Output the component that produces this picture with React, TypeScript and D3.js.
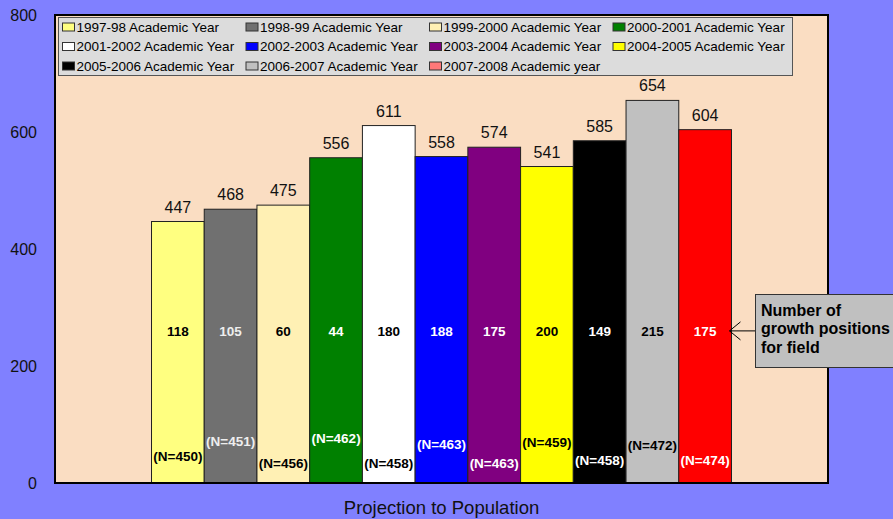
import * as d3 from "d3"

const years = [
  "1997-98 Academic Year",
  "1998-99 Academic Year",
  "1999-2000 Academic Year",
  "2000-2001 Academic Year",
  "2001-2002 Academic Year",
  "2002-2003 Academic Year",
  "2003-2004 Academic Year",
  "2004-2005 Academic Year",
  "2005-2006 Academic Year",
  "2006-2007 Academic Year",
  "2007-2008 Academic year",
]
const projections = [447, 468, 475, 556, 611, 558, 574, 541, 585, 654, 604]
const growthPositions = [118, 105, 60, 44, 180, 188, 175, 200, 149, 215, 175]
const sampleSizes = [450, 451, 456, 462, 458, 463, 463, 459, 458, 472, 474]
const yTicks = [0, 200, 400, 600, 800]
const category = "Projection to Population"
const calloutLines = ["Number of", "growth positions", "for field"]

const barColors = ["#FFFF80", "#707070", "#FFF0B4", "#008000", "#FFFFFF", "#0000FF", "#800080", "#FFFF00", "#000000", "#C0C0C0", "#FF0000"]
const swatchColors = ["#FFFF80", "#707070", "#FFF0B4", "#008000", "#FFFFFF", "#0000FF", "#800080", "#FFFF00", "#000000", "#C0C0C0", "#FF7878"]
const labelColors = ["#000", "#eee", "#000", "#fff", "#000", "#fff", "#fff", "#000", "#fff", "#000", "#fff"]
// heights (axis units) where the hand-placed "(N=...)" boxes sit in the original
const nLabelLevel = [45, 72, 34, 76, 34, 67, 34, 69, 39, 65, 38]

const W = 893
const H = 519
const plot = { left: 55, right: 828, top: 15, bottom: 483 }
const font = "'Liberation Sans', Arial, sans-serif"

export default function App() {
  const y = d3.scaleLinear().domain([0, 800]).range([plot.bottom, plot.top])
  const outer = d3.scaleBand().domain([category]).range([plot.left, plot.right]).paddingInner(0).paddingOuter(0.1664)
  const inner = d3.scaleBand().domain(years).range([0, outer.bandwidth()]).padding(0)
  const x0 = outer(category) || 0
  const bw = inner.bandwidth()

  const labelY = y(260)
  const lastX = x0 + (inner(years[years.length - 1]) || 0) + bw
  const boxX = 755

  return (
    <svg width={W} height={H} style={{ position: "absolute", left: 0, top: 0, display: "block" }} fontFamily={font}>
      <rect width={W} height={H} fill="#8080FF" />
      <rect x={plot.left} y={plot.top} width={plot.right - plot.left} height={plot.bottom - plot.top} fill="#FADDC2" />

      {yTicks.map((t) => (
        <text key={t} x={37} y={y(t)} dy="0.35em" textAnchor="end" fontSize={16} fill="#111">
          {t}
        </text>
      ))}

      {years.map((yr, i) => {
        const bx = x0 + (inner(yr) || 0)
        const cx = bx + bw / 2
        return (
          <g key={yr}>
            <rect x={bx} y={y(projections[i])} width={bw} height={plot.bottom - y(projections[i])} fill={barColors[i]} stroke="#222" strokeWidth={1} />
            <text x={cx} y={y(projections[i]) - 9} textAnchor="middle" fontSize={16} fill="#111">
              {projections[i]}
            </text>
            <text x={cx} y={labelY} dy="0.35em" textAnchor="middle" fontSize={13.5} fontWeight="bold" fill={labelColors[i]}>
              {growthPositions[i]}
            </text>
            <text x={cx} y={y(nLabelLevel[i])} dy="0.35em" textAnchor="middle" fontSize={13.5} fontWeight="bold" fill={labelColors[i]}>
              (N={sampleSizes[i]})
            </text>
          </g>
        )
      })}

      <rect x={plot.left} y={plot.top} width={plot.right - plot.left} height={plot.bottom - plot.top} fill="none" stroke="#000" strokeWidth={2} />

      {/* legend */}
      <g>
        <rect x={58.5} y={17.5} width={734} height={58} fill="#DCDCDC" stroke="#555" strokeWidth={1} />
        {years.map((yr, i) => {
          const col = i % 4
          const row = Math.floor(i / 4)
          const lx = 62.5 + col * 183.5
          const ly = 27 + row * 19.5
          return (
            <g key={yr}>
              <rect x={lx} y={ly - 4} width={12} height={8} fill={swatchColors[i]} stroke="#333" strokeWidth={1} />
              <text x={lx + 14} y={ly} dy="0.35em" fontSize={13.5} fill="#000">
                {yr}
              </text>
            </g>
          )
        })}
      </g>

      {/* callout */}
      <line x1={boxX} y1={labelY} x2={lastX - 2} y2={labelY} stroke="#000" strokeWidth={1} />
      <polyline points={`${lastX + 9},${labelY - 9} ${lastX - 2},${labelY} ${lastX + 9},${labelY + 9}`} fill="none" stroke="#000" strokeWidth={1} />
      <rect x={boxX + 0.5} y={294.5} width={160} height={73} fill="#C0C0C0" stroke="#333" strokeWidth={1} />
      {calloutLines.map((l, i) => (
        <text key={l} x={761} y={310 + i * 18.7} dy="0.35em" fontSize={16} fontWeight="bold" fill="#000">
          {l}
        </text>
      ))}

      <text x={(plot.left + plot.right) / 2} y={508} dy="0.35em" textAnchor="middle" fontSize={18.5} fill="#111">
        {category}
      </text>
    </svg>
  )
}
